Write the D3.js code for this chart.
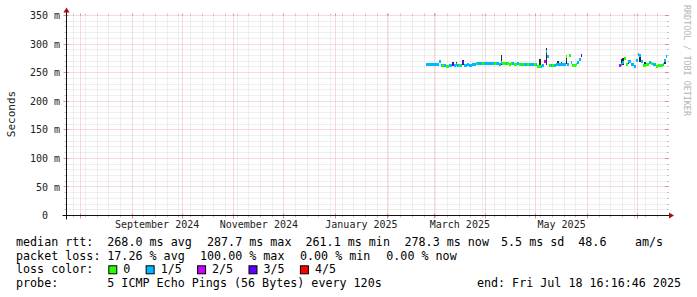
<!DOCTYPE html>
<html>
<head>
<meta charset="utf-8">
<script src="https://cdn.jsdelivr.net/npm/d3@7"></script>
<style>
  html, body { margin: 0; padding: 0; background: #fff; }
  svg { display: block; }
  text { font-family: "DejaVu Sans Mono", monospace; white-space: pre; }
</style>
</head>
<body>
<svg id="chart" width="697" height="297"></svg>
<script>
// graph covers the last 360 days
const endTime = new Date(Date.UTC(2025, 6, 18, 16, 16, 46));
const startTime = new Date(+endTime - 360 * 864e5);

const yTicks = [0, 50, 100, 150, 200, 250, 300, 350];
const monthLabels = ["September 2024", "November 2024", "January 2025", "March 2025", "May 2025"];
const monthLabelStarts = ["2024-09-01", "2024-11-01", "2025-01-01", "2025-03-01", "2025-05-01"];

// daily median rtt (ms) and loss level (0..4 of 5 pings)
const seg1Start = "2025-02-24";
const seg1Median = [
  265.5, 265.5, 266, 265, 265.5, 265.5, 265, 266, 270, 263.5,
  263, 263, 262, 262, 263.5, 264, 265, 264, 264.5, 263,
  263.5, 263, 268, 264, 264, 264.5, 264, 264, 264.5, 265,
  266.5, 266.5, 266.5, 267, 266.5, 266.5, 266.5, 266.5, 266.5, 266.5,
  266.5, 266.5, 266.5, 266.5, 266, 269, 266.5, 266.5, 266.5, 266.5,
  266, 266.5, 266.5, 266, 266, 266.5, 266, 265.5, 265.5, 265.5,
  265.5, 265.5, 265.5, 265, 265.5, 265, 265.5, 262, 261.5, 262.5,
  264, 270, 287.7, 279, 263, 263, 263.5, 264, 265, 265.5,
  266, 264.5, 265, 266, 279, 266, 281, 268, 264, 264,
  264.5, 269, 274, 280
];
const seg1Loss = [
  1, 1, 1, 1, 1, 1, 1, 1, 1, 1,
  0, 1, 0, 0, 1, 1, 3, 1, 1, 1,
  0, 1, 3, 1, 1, 1, 1, 1, 1, 1,
  0, 1, 1, 1, 0, 1, 1, 1, 1, 1,
  1, 0, 1, 1, 1, 1, 0, 0, 1, 0,
  0, 0, 1, 0, 0, 1, 0, 1, 0, 1,
  1, 0, 1, 1, 1, 0, 1, 0, 0, 1,
  1, 2, 1, 1, 0, 1, 0, 1, 1, 1,
  1, 1, 1, 1, 0, 1, 0, 1, 0, 0,
  0, 1, 1, 3
];
const seg2Start = "2025-06-20";
const seg2Median = [
  264, 266, 268, 276, 266, 270, 270, 266, 265, 262.5,
  272, 282, 280, 270, 263, 264, 266, 266, 268, 267,
  265, 265, 262.5, 263, 264, 263, 266, 272, 278.3
];
const seg2Loss = [
  2, 1, 1, 0, 0, 1, 1, 1, 1, 1,
  1, 1, 1, 1, 0, 0, 0, 0, 1, 0,
  1, 1, 0, 0, 0, 0, 1, 1, 1
];

// days where the smoke spreads well away from the median
const smokeDays = ["2025-03-12", "2025-03-14", "2025-03-18", "2025-04-10", "2025-05-03",
  "2025-05-07", "2025-05-14", "2025-05-16", "2025-05-19", "2025-06-21", "2025-06-22",
  "2025-06-25", "2025-07-02", "2025-07-05", "2025-07-17"];
const smokeLow = [263, 263, 263, 264, 261, 264, 263, 263, 265, 264, 264, 265, 268, 262, 265];
const smokeHigh = [269, 268, 272, 280, 274, 293.5, 270, 268, 280, 274, 275, 273, 283, 268, 274];

const lossLabels = ["0", "1/5", "2/5", "3/5", "4/5"];
const lossColors = ["#26ff00", "#00b8ff", "#c800ff", "#5e00ff", "#ff0000"];

const legendRows = [
  [["median rtt:", 16], ["268.0 ms avg", 107.3], ["287.7 ms max", 207], ["261.1 ms min", 305.5],
   ["278.3 ms now", 404.5], ["5.5 ms sd", 501], ["48.6", 578.3], ["am/s", 635]],
  [["packet loss:", 16], ["17.26 % avg", 107.3], ["100.00 % max", 200], ["0.00 % min", 300],
   ["0.00 % now", 386.3]]
];
const probeText = "5 ICMP Echo Pings (56 Bytes) every 120s";
const endText = "end: Fri Jul 18 16:16:46 2025";

const parseDay = d3.utcParse("%Y-%m-%d");

const svg = d3.select("#chart");
const X0 = 66.5, X1 = 667, Y0 = 215.5, Y1 = 15.5;

const x = d3.scaleUtc().domain([startTime, endTime]).range([X0, X1]);
const y = d3.scaleLinear().domain([0, 350]).range([Y0, Y1]);

const crisp = v => Math.round(v - 0.5) + 0.5;

// ---- grid ----
const grid = svg.append("g");
const minorCol = "#dcdcdc", majorCol = "#f2b4b4";

const months = d3.utcMonth.range(startTime, endTime);
const monthSet = new Set(months.map(d => +d));
const weeks = d3.utcSunday.range(startTime, endTime).filter(d => !monthSet.has(+d));

const yMinor = d3.range(10, 351, 10).filter(v => v % 50 !== 0);
const yMajor = yTicks.filter(v => v > 0);

grid.selectAll(".vmin").data(weeks).join("line")
  .attr("x1", d => crisp(x(d))).attr("x2", d => crisp(x(d)))
  .attr("y1", Y1).attr("y2", Y0)
  .attr("stroke", minorCol).attr("stroke-dasharray", "1,1");
grid.selectAll(".hmin").data(yMinor).join("line")
  .attr("x1", X0).attr("x2", X1 + 1)
  .attr("y1", d => crisp(y(d))).attr("y2", d => crisp(y(d)))
  .attr("stroke", minorCol).attr("stroke-dasharray", "1,1");
grid.selectAll(".vmaj").data(months).join("line")
  .attr("x1", d => crisp(x(d))).attr("x2", d => crisp(x(d)))
  .attr("y1", Y1).attr("y2", Y0)
  .attr("stroke", majorCol).attr("stroke-dasharray", "1,1");
grid.selectAll(".hmaj").data(yMajor).join("line")
  .attr("x1", X0).attr("x2", X1 + 1)
  .attr("y1", d => crisp(y(d))).attr("y2", d => crisp(y(d)))
  .attr("stroke", majorCol).attr("stroke-dasharray", "1,1");

// small solid ticks at the frame edges
const ticks = svg.append("g");
weeks.forEach(d => {
  const xx = crisp(x(d));
  ticks.append("line").attr("x1", xx).attr("x2", xx).attr("y1", Y0).attr("y2", Y0 + 2).attr("stroke", "#c4c4c4");
  ticks.append("line").attr("x1", xx).attr("x2", xx).attr("y1", Y1 - 2).attr("y2", Y1).attr("stroke", "#c4c4c4");
});
months.forEach(d => {
  const xx = crisp(x(d));
  ticks.append("line").attr("x1", xx).attr("x2", xx).attr("y1", Y0 - 2).attr("y2", Y0 + 3).attr("stroke", "#e48a8a");
  ticks.append("line").attr("x1", xx).attr("x2", xx).attr("y1", Y1 - 2).attr("y2", Y1).attr("stroke", "#e48a8a");
});
yMinor.forEach(v => {
  const yy = crisp(y(v));
  ticks.append("line").attr("x1", X0 - 2).attr("x2", X0).attr("y1", yy).attr("y2", yy).attr("stroke", "#c4c4c4");
  ticks.append("line").attr("x1", X1).attr("x2", X1 + 2).attr("y1", yy).attr("y2", yy).attr("stroke", "#c4c4c4");
});
yMajor.forEach(v => {
  const yy = crisp(y(v));
  ticks.append("line").attr("x1", X0 - 3).attr("x2", X0 + 2).attr("y1", yy).attr("y2", yy).attr("stroke", "#e48a8a");
  ticks.append("line").attr("x1", X1 - 2).attr("x2", X1 + 2).attr("y1", yy).attr("y2", yy).attr("stroke", "#e48a8a");
});

// ---- data ----
function daysOf(start, medians, losses) {
  const s = parseDay(start);
  return medians.map((m, i) => ({ t: d3.utcDay.offset(s, i), median: m, loss: losses[i] }));
}
const series = daysOf(seg1Start, seg1Median, seg1Loss).concat(daysOf(seg2Start, seg2Median, seg2Loss));
const smoke = smokeDays.map((s, i) => ({ t: parseDay(s), lo: smokeLow[i], hi: smokeHigh[i] }));

const plot = svg.append("g").attr("shape-rendering", "crispEdges");
const dayX0 = d => Math.round(x(d.t));
const dayX1 = d => Math.round(Math.min(x(d3.utcDay.offset(d.t, 1)), X1));

plot.selectAll(".smoke").data(smoke).join("rect")
  .attr("x", dayX0)
  .attr("width", d => Math.max(1, dayX1(d) - dayX0(d)))
  .attr("y", d => Math.round(y(d.hi)))
  .attr("height", d => Math.round(y(d.lo)) - Math.round(y(d.hi)))
  .attr("fill", "#2a2a2a");

plot.selectAll(".med").data(series).join("rect")
  .attr("x", dayX0)
  .attr("width", d => dayX1(d) - dayX0(d))
  .attr("y", d => Math.round(y(d.median)) - 1)
  .attr("height", 3)
  .attr("fill", d => lossColors[d.loss]);

// ---- axes ----
const axis = svg.append("g");
axis.append("line").attr("x1", X0 - 4).attr("x2", X1 + 3).attr("y1", Y0).attr("y2", Y0).attr("stroke", "#111");
axis.append("line").attr("x1", X0).attr("x2", X0).attr("y1", Y0 + 4).attr("y2", Y1 - 4).attr("stroke", "#111");
axis.append("path").attr("d", `M${X1 + 2},${Y0 - 3}L${X1 + 2},${Y0 + 3}L${X1 + 7},${Y0}Z`).attr("fill", "#a01010");
axis.append("path").attr("d", `M${X0 - 3},${Y1 - 3}L${X0 + 3},${Y1 - 3}L${X0},${Y1 - 8}Z`).attr("fill", "#a01010");

svg.append("g").selectAll("text").data(yTicks).join("text")
  .attr("x", d => d === 0 ? 48 : 60)
  .attr("y", d => y(d))
  .attr("dy", "0.36em")
  .attr("text-anchor", "end")
  .attr("font-size", 10)
  .attr("fill", "#222")
  .text(d => d === 0 ? "0" : `${d} m`);

svg.append("g").selectAll("text").data(monthLabelStarts).join("text")
  .attr("x", d => {
    const s = parseDay(d);
    return x(new Date((+s + +d3.utcMonth.offset(s, 1)) / 2));
  })
  .attr("y", 228)
  .attr("text-anchor", "middle")
  .attr("font-size", 10)
  .attr("fill", "#222")
  .text((d, i) => monthLabels[i]);

svg.append("text")
  .attr("transform", "translate(15,114) rotate(-90)")
  .attr("text-anchor", "middle")
  .attr("font-size", 11)
  .attr("fill", "#222")
  .text("Seconds");

svg.append("text")
  .attr("transform", "translate(683.5,5) rotate(90)")
  .attr("font-size", 8.4)
  .attr("fill", "#b4b4b4")
  .text("RRDTOOL / TOBI OETIKER");

// ---- legend ----
const CW = 7.04, GAP = 15.3, COL2 = 107.3, FS = 11.7;
const rowY = [245.5, 259.5, 273.3, 287.2];
const legend = svg.append("g").attr("font-size", FS).attr("fill", "#000");

legendRows.forEach((row, r) => {
  row.forEach(([item, px]) => {
    legend.append("text").attr("x", px).attr("y", rowY[r]).text(item);
  });
});

legend.append("text").attr("x", 16).attr("y", rowY[2]).text("loss color:");
let bx = COL2 + 1;
lossLabels.forEach((lab, i) => {
  legend.append("rect").attr("x", bx + 0.5).attr("y", rowY[2] - 7.5).attr("width", 8).attr("height", 8)
    .attr("fill", lossColors[i]).attr("stroke", "#000").attr("stroke-width", 1);
  legend.append("text").attr("x", bx + 15).attr("y", rowY[2]).text(lab);
  bx += 15 + lab.length * CW + GAP;
});

legend.append("text").attr("x", 16).attr("y", rowY[3]).text("probe:");
legend.append("text").attr("x", COL2).attr("y", rowY[3]).text(probeText);
legend.append("text").attr("x", 681).attr("y", rowY[3]).attr("text-anchor", "end").text(endText);
</script>
</body>
</html>
